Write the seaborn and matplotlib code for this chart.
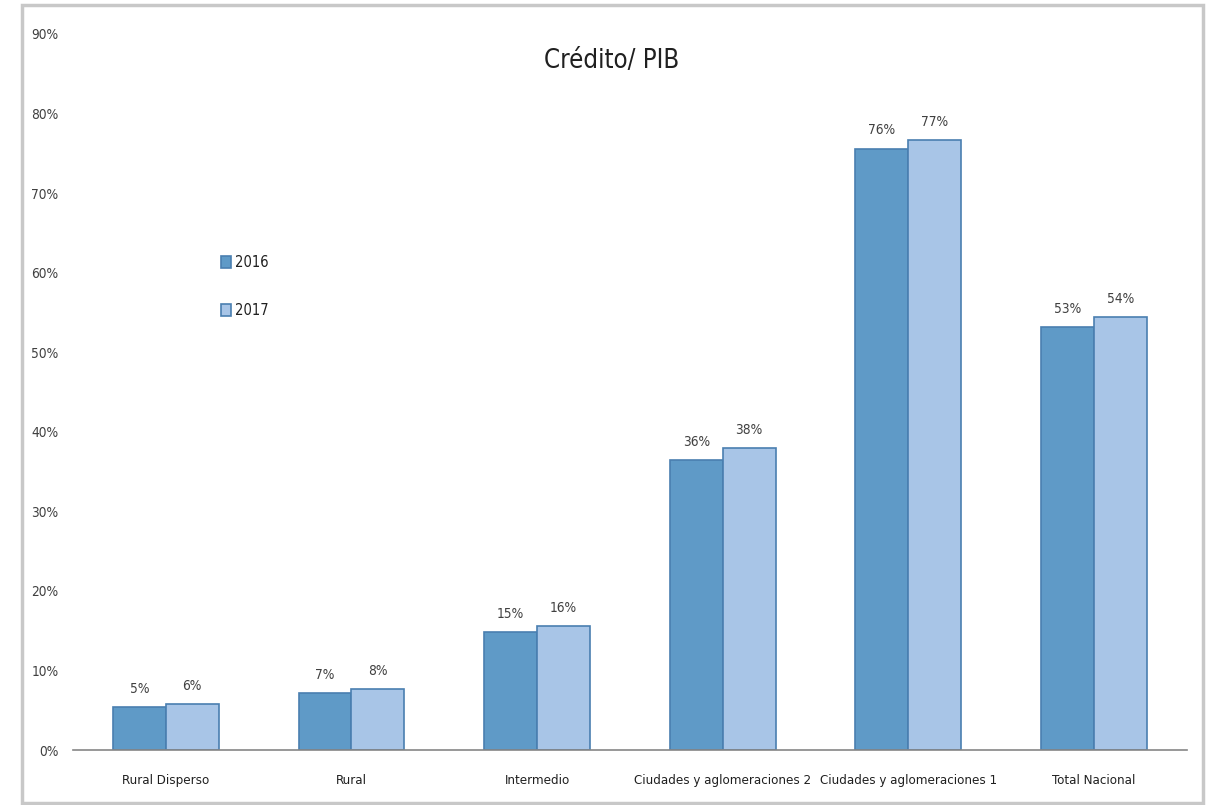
import matplotlib
matplotlib.use("Agg")
import matplotlib.pyplot as plt
from matplotlib import font_manager
from matplotlib.patches import Rectangle
import seaborn as sns
import pandas as pd

categories = ["Rural Disperso", "Rural", "Intermedio",
              "Ciudades y aglomeraciones 2", "Ciudades y aglomeraciones 1",
              "Total Nacional"]
years = ["2016", "2017"]
credito_2016 = [5.4, 7.2, 14.8, 36.4, 75.6, 53.2]
credito_2017 = [5.8, 7.7, 15.6, 38.0, 76.7, 54.4]
y_ticks = [0, 10, 20, 30, 40, 50, 60, 70, 80, 90]
title = "Crédito/ PIB"

df = pd.DataFrame({
    "categoria": categories * 2,
    "anio": [years[0]] * len(categories) + [years[1]] * len(categories),
    "valor": credito_2016 + credito_2017,
})

sns.set_theme(style="white")

# prefer a condensed sans face when one is installed
narrow = None
for f in font_manager.fontManager.ttflist:
    stretch = str(f.stretch).lower()
    if ("narrow" in f.name.lower() or "condensed" in f.name.lower()
            or stretch in ("condensed", "semi-condensed", "extra-condensed")) \
            and "mono" not in f.name.lower() and "serif" not in f.name.lower():
        narrow = f
        break
if narrow is not None:
    family = narrow.name
    stretch = narrow.stretch
else:
    family = "Roboto"
    stretch = "normal"
plt.rcParams["font.family"] = [family, "DejaVu Sans"]
plt.rcParams["font.stretch"] = stretch

text_color = "#404040"
colors = {"2016": "#5f9ac7", "2017": "#a8c5e7"}
edge = "#4a7fb0"

fig = plt.figure(figsize=(12.11, 8.05), dpi=100)
fig.patch.set_facecolor("white")
ax = fig.add_axes([0.0603, 0.0683, 0.9197, 0.8895])

sns.barplot(data=df, x="categoria", y="valor", hue="anio", palette=colors,
            order=categories, hue_order=years, width=0.57, gap=0,
            edgecolor=edge, linewidth=1.2, saturation=1, ax=ax)

for cont in ax.containers:
    ax.bar_label(cont, labels=[f"{b.get_height():.0f}%" for b in cont],
                 padding=8, fontsize=9.8, color=text_color)

ax.set_ylim(0, 90)
ax.set_xlim(-0.5, len(categories) - 0.5)
ax.set_yticks(y_ticks)
ax.set_yticklabels([f"{t}%" for t in y_ticks], fontsize=9.8, color=text_color)
ax.set_xticks(range(len(categories)))
ax.set_xticklabels(categories, fontsize=9.5, color="#202020")
ax.set_xlabel("")
ax.set_ylabel("")

# category boundary ticks on the x axis
ax.set_xticks([i - 0.5 for i in range(len(categories) + 1)], minor=True)
ax.tick_params(axis="x", which="major", length=0, pad=17)
ax.tick_params(axis="x", which="minor", length=6, width=1, color="#868686", direction="out")
ax.tick_params(axis="y", length=0, pad=10.5)

for side in ["top", "right", "left"]:
    ax.spines[side].set_visible(False)
ax.spines["bottom"].set_color("#868686")
ax.spines["bottom"].set_linewidth(1.2)

ax.text(0.505, 1 - 48 / 805, title, transform=fig.transFigure, ha="center", va="top",
        fontsize=18.5, color="#202020")

leg = ax.legend(loc="upper left", bbox_to_anchor=(0.121, 0.71), frameon=False,
                fontsize=10.5, handlelength=0.7, handleheight=0.9,
                handletextpad=0.25, labelspacing=2.3)
for t in leg.get_texts():
    t.set_color("#202020")

# outer chart border
fig.add_artist(Rectangle((22 / 1211, 2 / 805), 1181 / 1211, 798 / 805,
                         transform=fig.transFigure, fill=False,
                         edgecolor="#c8c8c8", linewidth=2.5))

fig.savefig("out.png", dpi=100, facecolor="white")
